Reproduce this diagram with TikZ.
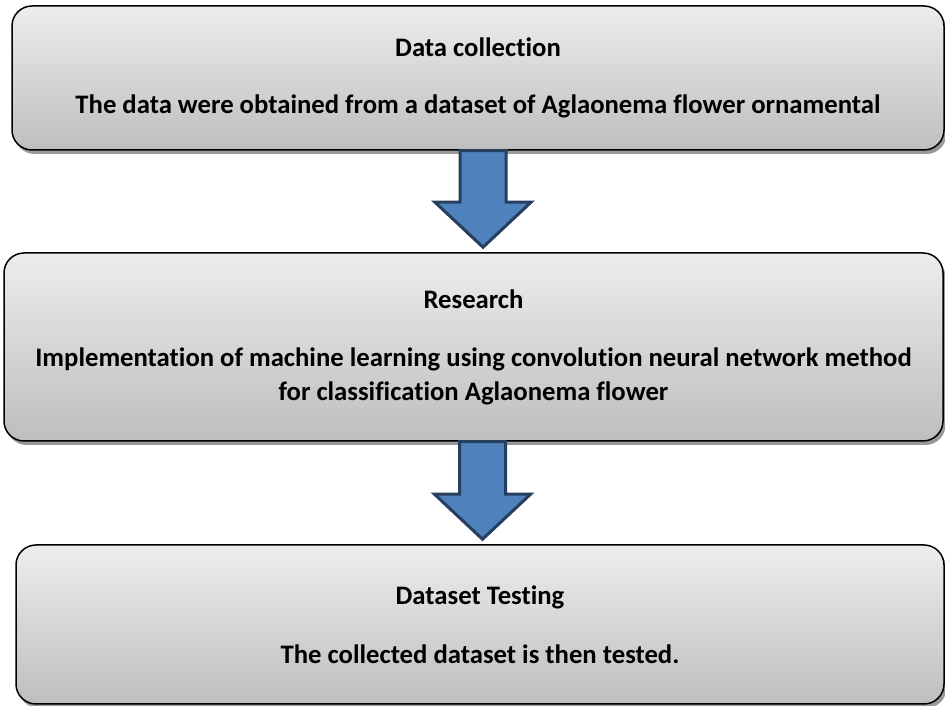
\documentclass[tikz,border=0pt]{standalone}
\usepackage{fontspec}
\setmainfont[Ligatures={NoCommon}]{Carlito}
\usetikzlibrary{shadows,calc}
\definecolor{boxtop}{HTML}{EDEDED}
\definecolor{boxbot}{HTML}{BEBEBE}
\definecolor{arrowfill}{HTML}{4F81BD}
\definecolor{arrowline}{HTML}{263F5F}
\tikzset{
  stagebox/.style={draw=black, line width=1.5pt, rounded corners=20pt,
    top color=boxtop, bottom color=boxbot,
    drop shadow={shadow xshift=2.5pt, shadow yshift=-4pt, fill=black!40, opacity=1},
    align=center, inner sep=0pt,
    font=\fontsize{26.7}{34}\selectfont\bfseries},
  blockarrow/.style={fill=arrowfill, draw=arrowline, line width=3pt, line join=miter}
}
\newcommand{\downarrowshape}[3]{% from node, to node, center x
  \path[blockarrow] let \p1=(#1.south), \p2=(#2.north) in
    (#3pt-23pt,\y1) -- (#3pt-23pt,\y2+50pt) -- (#3pt-48pt,\y2+50pt) --
    (#3pt,\y2+5pt) -- (#3pt+48pt,\y2+50pt) -- (#3pt+23pt,\y2+50pt) --
    (#3pt+23pt,\y1) -- cycle;
}
\begin{document}
\begin{tikzpicture}[x=1pt,y=1pt]
\useasboundingbox (0,0) rectangle (945,706);
\node[stagebox, minimum width=932pt, minimum height=144pt] (b1) at (478,628)
  {Data collection\\[23pt] The data were obtained from a dataset of Aglaonema flower ornamental};
\node[stagebox, minimum width=939pt, minimum height=188pt] (b2) at (473.5,359)
  {Research\\[24pt] Implementation of machine learning using convolution neural network method\\ for classification Aglaonema flower};
\node[stagebox, minimum width=928pt, minimum height=159pt] (b3) at (480,81.5)
  {Dataset Testing\\[25pt] The collected dataset is then tested.};
\downarrowshape{b1}{b2}{483}
\downarrowshape{b2}{b3}{482.5}
\end{tikzpicture}
\end{document}
